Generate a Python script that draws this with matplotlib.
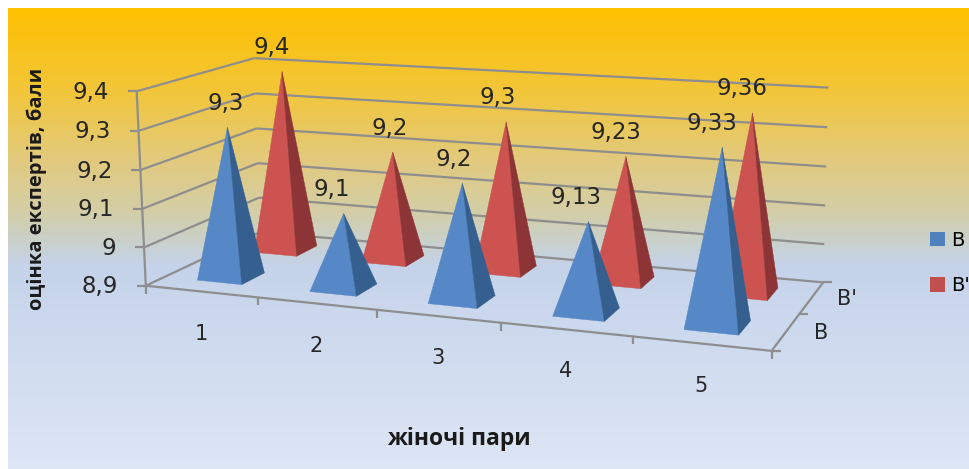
import numpy as np
import matplotlib
matplotlib.use('Agg')
import matplotlib.pyplot as plt
from matplotlib.colors import LinearSegmentedColormap
from matplotlib.patches import Polygon, Patch

categories = ['1', '2', '3', '4', '5']
series_names = ['B', "B'"]
values_b = [9.3, 9.1, 9.2, 9.13, 9.33]
values_b2 = [9.4, 9.2, 9.3, 9.23, 9.36]
labels_b = ['9,3', '9,1', '9,2', '9,13', '9,33']
labels_b2 = ['9,4', '9,2', '9,3', '9,23', '9,36']
z_ticks = [8.9, 9.0, 9.1, 9.2, 9.3, 9.4]
z_labels = ['8,9', '9', '9,1', '9,2', '9,3', '9,4']

# data label nudges, px
dx_b = [-2, -12, -9, -12, -10]
dx_b2 = [-10, -3, -8, -10, -10]

Z0, Z1 = z_ticks[0], z_ticks[-1]
NX, NY = len(categories), len(series_names)

# box corners (x, y, z in 0..1) and where they land on the picture
frame = [
    ((0, 0, 0), (148, 286)),
    ((1, 0, 0), (771, 352)),
    ((1, 1, 0), (824, 281)),
    ((0, 1, 0), (258, 232)),
    ((0, 0, 1), (135, 90)),
    ((0, 1, 1), (256, 59)),
    ((1, 1, 1), (828, 88)),
]

rows = []
for (x, y, z), (px, py) in frame:
    rows.append([x, y, z, 1, 0, 0, 0, 0, -px*x, -px*y, -px*z, -px])
    rows.append([0, 0, 0, 0, x, y, z, 1, -py*x, -py*y, -py*z, -py])
cam = np.linalg.svd(np.array(rows, dtype=float))[2][-1].reshape(3, 4)


def proj(cat, ser, val):
    p = cam @ np.array([cat/NX, ser/NY, (val-Z0)/(Z1-Z0), 1.0])
    return p[0]/p[2], p[1]/p[2]


fig = plt.figure(figsize=(9.7, 4.69), dpi=100, facecolor='white')
ax = fig.add_axes([0, 0, 1, 1])
ax.axis('off')

bg = LinearSegmentedColormap.from_list('bg', [
    (0.0, '#FFC000'), (0.18, '#F2C63A'), (0.33, '#E2CA7E'),
    (0.44, '#D4CEA6'), (0.49, '#CBD0C2'), (0.56, '#C5D3EA'), (1.0, '#DDE6F5')])
ax.imshow(np.linspace(0, 1, 256).reshape(-1, 1), cmap=bg, aspect='auto',
          extent=(8, 970, 469, 8), zorder=0)
ax.set_xlim(0, 970)
ax.set_ylim(469, 0)

GRID = '#8E8E8E'


def line(a, b, lw=1.6):
    ax.plot(*zip(a, b), color=GRID, lw=lw, zorder=1, solid_capstyle='butt')


# walls
for z, lab in zip(z_ticks, z_labels):
    line(proj(0, 0, z), proj(0, NY, z))
    line(proj(0, NY, z), proj(NX, NY, z))
    a = proj(0, 0, z)
    line((a[0]-9, a[1]), a)
    ax.text(a[0]-28, a[1]+1, lab, ha='right', va='center',
            fontsize=16.5, color='#262626', zorder=5)
line(proj(0, 0, Z0), proj(0, 0, Z1))

# floor
line(proj(0, 0, Z0), proj(NX, 0, Z0))
line(proj(NX, 0, Z0), proj(NX, NY, Z0))
for i in range(NX+1):
    a = proj(i, 0, Z0)
    line(a, (a[0], a[1]+8))
for j in range(NY+1):
    a = proj(NX, j, Z0)
    line(a, (a[0]+9, a[1]))


def pyramid(cat, ser, val, front, side, label, dx, z):
    hx, hy = 0.2, 0.2
    cx, cy = cat+0.5, ser+0.5
    fl = proj(cx-hx, cy-hy, Z0)
    fr = proj(cx+hx, cy-hy, Z0)
    br = proj(cx+hx, cy+hy, Z0)
    top = proj(cx, cy, val)
    top = (top[0]+2, top[1]+3)
    ax.add_patch(Polygon([fl, fr, top], closed=True, fc=front, ec=front, lw=0.3, zorder=z))
    ax.add_patch(Polygon([fr, br, top], closed=True, fc=side, ec=side, lw=0.3, zorder=z))
    ax.text(top[0]+dx, top[1]-24, label, ha='center', va='center', fontsize=16.5,
            color='#262626', zorder=6)


for i in range(NX):
    pyramid(i, 1, values_b2[i], '#CC5350', '#8C3436', labels_b2[i], dx_b2[i], 2)
for i in range(NX):
    pyramid(i, 0, values_b[i], '#5688C8', '#355F8E', labels_b[i], dx_b[i], 3)

# category and series names
for i, c in enumerate(categories):
    a = proj(i+0.5, 0, Z0)
    ax.text(a[0], a[1]+42, c, ha='center', va='center', fontsize=15, color='#262626')
for j, s in enumerate(series_names):
    a = proj(NX, j+0.5, Z0)
    ax.text(a[0]+35, a[1]+1, s, ha='center', va='center', fontsize=15, color='#262626')

ax.text(459, 439, 'жіночі пари', ha='center', va='center', fontsize=16.5,
        fontweight='bold', family='Open Sans', color='#1A1A1A')
ax.text(37, 189, 'оцінка експертів, бали', ha='center', va='center', rotation=90,
        fontsize=14.5, fontweight='bold', family='Open Sans', color='#1A1A1A')

handles = [Patch(fc='#4F81BD', ec='none'), Patch(fc='#C0504D', ec='none')]
ax.legend(handles, series_names, loc='upper left', bbox_to_anchor=(930, 231),
          bbox_transform=ax.transData, frameon=False, fontsize=14,
          handlelength=0.77, handleheight=0.77, handletextpad=0.3, labelspacing=1.36,
          borderpad=0, borderaxespad=0)

fig.savefig('out.png', dpi=100)
